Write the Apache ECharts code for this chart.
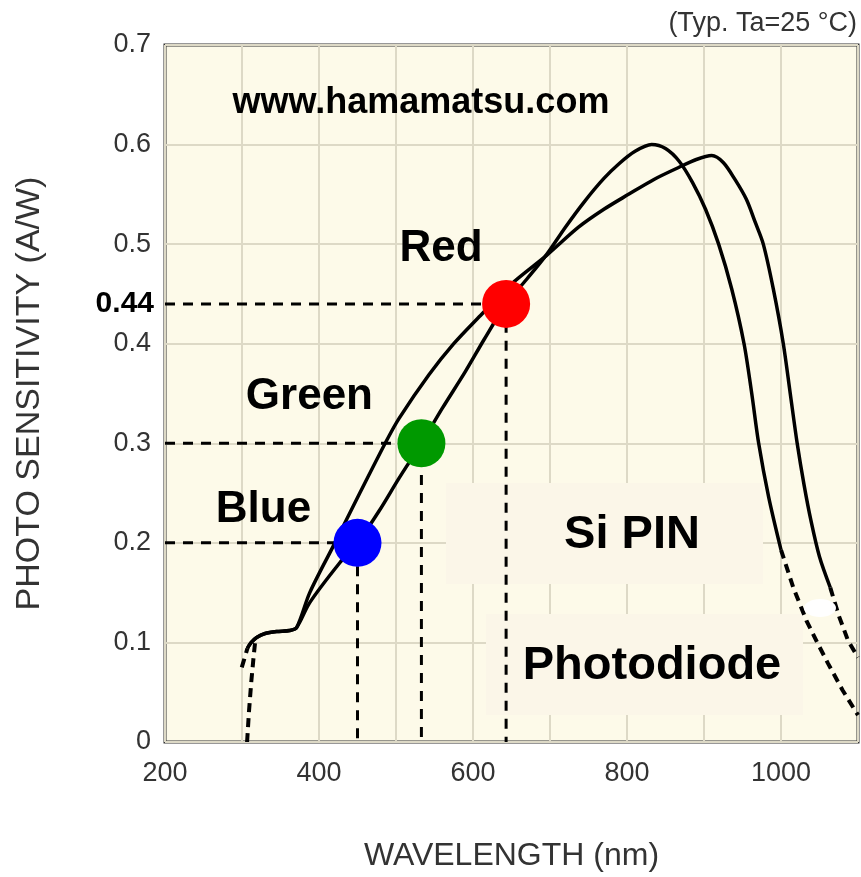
<!DOCTYPE html>
<html>
<head>
<meta charset="utf-8">
<script src="https://cdn.jsdelivr.net/npm/echarts@6/dist/echarts.min.js"></script>
<style>
html, body { margin: 0; padding: 0; background: #fff; }
#main { width: 861px; height: 877px; }
</style>
</head>
<body>
<div id="main"></div>
<script>
// curve A: goes through the colour points, peak near 830 nm
var curveA_x = [307, 312, 319, 330, 345, 362, 371, 388, 427, 450, 478, 504, 533, 560, 590, 615, 643, 670, 696, 720, 745, 770, 790, 810, 832, 850, 868, 885, 902, 919, 936, 952, 962, 971, 984, 1000];
var curveA_y = [0.094, 0.1, 0.105, 0.109, 0.111, 0.112, 0.115, 0.14, 0.18, 0.2, 0.232, 0.265, 0.3, 0.335, 0.372, 0.405, 0.44, 0.465, 0.49, 0.517, 0.543, 0.566, 0.581, 0.593, 0.6, 0.596, 0.583, 0.562, 0.535, 0.5, 0.455, 0.4, 0.35, 0.3, 0.246, 0.193];
var curveA_startX = [299.7, 303.6, 307];
var curveA_startY = [0.075, 0.085, 0.094];
var curveA_tailX = [1000, 1016, 1033, 1047, 1061, 1080, 1096, 1100];
var curveA_tailY = [0.193, 0.155, 0.122, 0.1, 0.079, 0.052, 0.032, 0.027];

// curve B: flatter one, peak near 910 nm
var curveB_x = [307, 312, 319, 330, 345, 362, 371, 388, 418, 453, 488, 504, 543, 575, 608, 650, 696, 737, 770, 802, 835, 867, 890, 910, 925, 941, 955, 967, 977, 990, 1003, 1012, 1021, 1030, 1039, 1050, 1064];
var curveB_y = [0.094, 0.1, 0.105, 0.109, 0.111, 0.112, 0.115, 0.15, 0.196, 0.25, 0.303, 0.325, 0.369, 0.4, 0.427, 0.46, 0.489, 0.517, 0.535, 0.55, 0.565, 0.577, 0.585, 0.589, 0.582, 0.564, 0.545, 0.521, 0.5, 0.455, 0.4, 0.35, 0.3, 0.258, 0.222, 0.186, 0.155];
var curveB_startX = [306.6, 309, 312, 315, 317];
var curveB_startY = [0, 0.03, 0.06, 0.085, 0.1];
var curveB_tailX = [1064, 1075, 1087, 1100];
var curveB_tailY = [0.155, 0.127, 0.102, 0.085];

// colour points
var dotNames = ['Blue', 'Green', 'Red'];
var dotX = [450, 533, 643];
var dotY = [0.2, 0.3, 0.44];
var dotColors = ['#0000FF', '#009900', '#FF0000'];
var dotLabelOffsets = [[-94, -33], [-112, -46], [-65, -55]];

var FONT = '"Liberation Sans", Arial, sans-serif';

function pairs(xs, ys) {
    return xs.map(function (x, i) { return [x, ys[i]]; });
}

function curve(xs, ys, dashed) {
    return {
        type: 'line',
        data: pairs(xs, ys),
        smooth: dashed ? false : 0.3,
        showSymbol: false,
        symbol: 'none',
        z: 2,
        lineStyle: {color: '#000', width: dashed ? 4 : 3.5, type: dashed ? [9, 6] : 'solid'}
    };
}

var series = [];
// dashed guide lines from the axes to each point
dotX.forEach(function (x, i) {
    series.push({
        type: 'line',
        data: [[200, dotY[i]], [x, dotY[i]], [x, 0]],
        showSymbol: false,
        symbol: 'none',
        z: 2,
        lineStyle: {color: '#000', width: 3, type: [10, 8]}
    });
});
series.push(curve(curveA_x, curveA_y, false));
series.push(curve(curveA_startX, curveA_startY, true));
series.push(curve(curveA_tailX, curveA_tailY, true));
series.push(curve(curveB_x, curveB_y, false));
series.push(curve(curveB_startX, curveB_startY, true));
series.push(curve(curveB_tailX, curveB_tailY, true));
series.push({
    type: 'scatter',
    z: 4,
    symbolSize: 48,
    data: dotNames.map(function (n, i) {
        return {
            name: n,
            value: [dotX[i], dotY[i]],
            itemStyle: {color: dotColors[i], opacity: 1},
            label: {
                show: true, formatter: '{b}', position: 'inside', offset: dotLabelOffsets[i],
                color: '#000', fontSize: 44, fontWeight: 'bold', fontFamily: FONT
            }
        };
    })
});

var chart = echarts.init(document.getElementById('main'));
chart.setOption({
    animation: false,
    backgroundColor: '#fff',
    grid: {
        left: 165, top: 45, width: 695, height: 697,
        show: true, backgroundColor: '#FDFAE9', borderColor: '#333', borderWidth: 3
    },
    xAxis: {
        type: 'value', min: 200, max: 1100, interval: 100,
        axisLine: {show: false}, axisTick: {show: false},
        splitLine: {lineStyle: {color: '#DDD9C6', width: 2}},
        axisLabel: {
            formatter: function (v) { return (v % 200 === 0 && v < 1100) ? String(v) : ''; },
            fontSize: 27, color: '#333', fontFamily: FONT, margin: 18
        },
        name: 'WAVELENGTH (nm)', nameLocation: 'middle', nameGap: 98,
        nameTextStyle: {fontSize: 32, color: '#333', fontFamily: FONT}
    },
    yAxis: {
        type: 'value', min: 0, max: 0.7, interval: 0.1,
        axisLine: {show: false}, axisTick: {show: false},
        splitLine: {lineStyle: {color: '#DDD9C6', width: 2}},
        axisLabel: {
            formatter: function (v) { return v === 0 ? '0' : v.toFixed(1); },
            fontSize: 27, color: '#333', fontFamily: FONT, margin: 14
        },
        name: 'PHOTO SENSITIVITY (A/W)', nameLocation: 'middle', nameGap: 118,
        nameTextStyle: {fontSize: 34, color: '#333', fontFamily: FONT}
    },
    graphic: [
        {type: 'rect', z: 1, shape: {x: 446, y: 483, width: 317, height: 101}, style: {fill: '#FBF6E8'}},
        {type: 'rect', z: 1, shape: {x: 486, y: 614, width: 317, height: 101}, style: {fill: '#FBF6E8'}},
        {type: 'text', z: 5, x: 632, y: 535, style: {text: 'Si PIN', fill: '#000', fontSize: 47, fontWeight: 'bold', fontFamily: FONT, align: 'center', verticalAlign: 'middle'}},
        {type: 'text', z: 5, x: 652, y: 666, style: {text: 'Photodiode', fill: '#000', fontSize: 47, fontWeight: 'bold', fontFamily: FONT, align: 'center', verticalAlign: 'middle'}},
        {type: 'text', z: 5, x: 421, y: 103, style: {text: 'www.hamamatsu.com', fill: '#000', fontSize: 36, fontWeight: 'bold', fontFamily: FONT, align: 'center', verticalAlign: 'middle'}},
        {type: 'text', z: 5, x: 857, y: 24, style: {text: '(Typ. Ta=25 \u00B0C)', fill: '#333', fontSize: 27, fontFamily: FONT, align: 'right', verticalAlign: 'middle'}},
        {type: 'ellipse', z: 10, shape: {cx: 820, cy: 608, rx: 16, ry: 9}, style: {fill: '#fff'}}
    ],
    series: series
});

// bold value label for the red point on the y axis
var p = chart.convertToPixel({gridIndex: 0}, [200, dotY[2]]);
chart.setOption({
    graphic: [{
        id: 'redValue', type: 'text', z: 5, x: p[0] - 11, y: p[1],
        style: {text: String(dotY[2]), fill: '#000', fontSize: 30, fontWeight: 'bold', fontFamily: FONT, align: 'right', verticalAlign: 'middle'}
    }]
});
</script>
</body>
</html>
